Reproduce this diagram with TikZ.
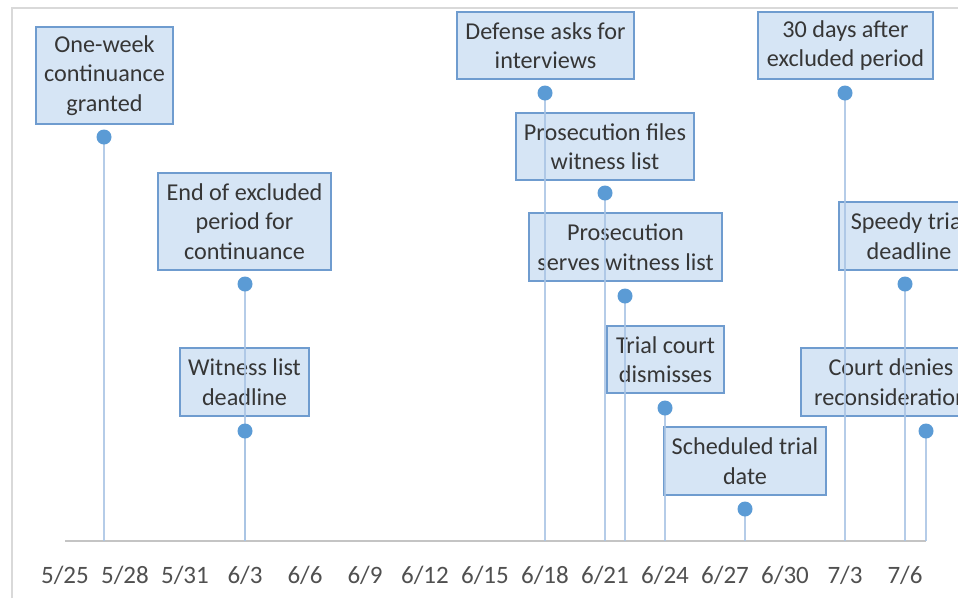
\documentclass[tikz,border=0pt]{standalone}
\usepackage{fontspec}
\setmainfont{Carlito}
\definecolor{boxfill}{HTML}{D6E5F5}
\definecolor{boxline}{HTML}{6F9CCF}
\definecolor{txt}{HTML}{363636}
\definecolor{ticktxt}{HTML}{505050}
\definecolor{dotc}{HTML}{5B9BD5}
\definecolor{stemc}{HTML}{A9C4E4}
\definecolor{axisc}{HTML}{C4C4C4}
\definecolor{framec}{HTML}{D9D9D9}
\begin{document}
\begin{tikzpicture}[x=1pt,y=-1pt,
  lbl/.style={draw=boxline, line width=1.4pt, fill=boxfill, text=txt, align=center,
    font=\fontsize{24.2}{29.5}\selectfont, inner sep=0pt},
  dotn/.style={circle, fill=dotc, draw=none, minimum size=15pt, inner sep=0pt},
  stemline/.style={draw=stemc, line width=2pt, opacity=0.85},
  axisline/.style={draw=axisc, line width=2pt},
  frameline/.style={draw=framec, line width=1.5pt},
  ticklbl/.style={text=ticktxt, font=\fontsize{25}{28}\selectfont, inner sep=0pt}]
\useasboundingbox (0,0) rectangle (958,598);
\clip (0,0) rectangle (958,598);
\fill[white] (0,0) rectangle (958,598);
% frame
\coordinate (fbl) at (12,598);
\coordinate (ftl) at (12,8);
\coordinate (ftr) at (958,8);
\draw[frameline] (fbl) -- (ftl) -- (ftr);
% axis
\coordinate (ax0) at (65,541);
\coordinate (ax1) at (926,541);
\draw[axisline] (ax0) -- (ax1);
% tick labels
\foreach \t [count=\i from 0] in {5/25,5/28,5/31,6/3,6/6,6/9,6/12,6/15,6/18,6/21,6/24,6/27,6/30,7/3,7/6}
  \node[ticklbl] (tick\i) at ({65+60*\i},575) {\t};
% boxes
\node[lbl, minimum width=137pt, minimum height=97pt] (l1) at (104.5,75.5) {One-week\\continuance\\granted};
\node[lbl, minimum width=173pt, minimum height=97pt] (l2) at (244.5,221.5) {End of excluded\\period for\\continuance};
\node[lbl, minimum width=129pt, minimum height=68pt] (l3) at (244.5,382) {Witness list\\deadline};
\node[lbl, minimum width=177pt, minimum height=67pt] (l4) at (545.5,45.5) {Defense asks for\\interviews};
\node[lbl, minimum width=178pt, minimum height=67pt] (l5) at (605,146.5) {Prosecution files\\witness list};
\node[lbl, minimum width=193pt, minimum height=68pt] (l6) at (625.5,247) {Prosecution\\serves witness list};
\node[lbl, minimum width=117pt, minimum height=67pt] (l7) at (665.5,359.5) {Trial court\\dismisses};
\node[lbl, minimum width=162pt, minimum height=68pt] (l8) at (745,461) {Scheduled trial\\date};
\node[lbl, minimum width=175pt, minimum height=67pt] (l9) at (845.5,45.5) {30 days after\\excluded period};
\node[lbl, minimum width=140pt, minimum height=68pt] (l10) at (909,236) {Speedy trial\\deadline};
\node[lbl, minimum width=180pt, minimum height=68pt] (l11) at (891,382) {Court denies\\reconsideration};
% points
\coordinate (p1) at (104,137);  \coordinate (b1) at (104,541);
\coordinate (p2) at (245,284);  \coordinate (b2) at (245,541);
\coordinate (p3) at (245,431);  \coordinate (b3) at (245,541);
\coordinate (p4) at (545,93);   \coordinate (b4) at (545,541);
\coordinate (p5) at (605,193);  \coordinate (b5) at (605,541);
\coordinate (p6) at (625,296);  \coordinate (b6) at (625,541);
\coordinate (p7) at (665,408);  \coordinate (b7) at (665,541);
\coordinate (p8) at (745,509);  \coordinate (b8) at (745,541);
\coordinate (p9) at (845,93);   \coordinate (b9) at (845,541);
\coordinate (p10) at (905,284); \coordinate (b10) at (905,541);
\coordinate (p11) at (926,431); \coordinate (b11) at (926,541);
\foreach \i in {1,...,11} \draw[stemline] (p\i) -- (b\i);
\foreach \i in {1,...,11} \node[dotn] (d\i) at (p\i) {};
\end{tikzpicture}
\end{document}
